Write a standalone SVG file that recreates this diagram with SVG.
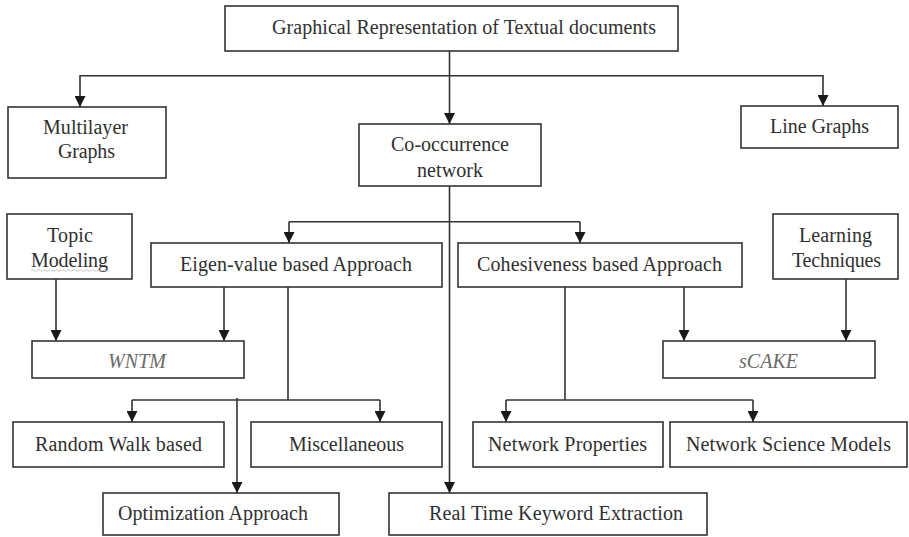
<svg xmlns="http://www.w3.org/2000/svg" width="909" height="537" viewBox="0 0 909 537">
  <style>
    .box { fill: #ffffff; stroke: #333333; stroke-width: 1.6; }
    .lbl { font-family: "Liberation Serif", "Times New Roman", serif; font-size: 20px; fill: #303030; text-anchor: middle; }
    .it { font-style: italic; fill: #6a6a6a; }
    .wire { fill: none; stroke: #333333; stroke-width: 1.6; }
    .arr { marker-end: url(#head); }
  </style>
  <defs>
    <marker id="head" viewBox="0 0 10 10" refX="10" refY="5" markerWidth="11" markerHeight="11" markerUnits="userSpaceOnUse" orient="auto">
      <path d="M0,0 L10,5 L0,10 Z" fill="#1a1a1a"/>
    </marker>
  </defs>

  <rect width="909" height="537" fill="#ffffff"/>

  <g id="connectors">
    <!-- root to first level -->
    <path class="wire" d="M449.5,51 V75.7"/>
    <path class="wire arr" d="M449.5,75.7 H80 V107"/>
    <path class="wire arr" d="M449.5,75.7 H823 V106"/>
    <path class="wire arr" d="M449.5,75.7 V124"/>
    <!-- co-occurrence network trunk -->
    <path class="wire arr" d="M449.5,186 V493"/>
    <path class="wire" d="M289,221.7 H580"/>
    <path class="wire arr" d="M289,221.7 V243"/>
    <path class="wire arr" d="M580,221.7 V243"/>
    <!-- WNTM inputs -->
    <path class="wire arr" d="M56,279 V341"/>
    <path class="wire arr" d="M224,287 V341"/>
    <!-- sCAKE inputs -->
    <path class="wire arr" d="M684,287 V341"/>
    <path class="wire arr" d="M846,279 V341"/>
    <!-- eigen-value branches -->
    <path class="wire" d="M288,287 V400"/>
    <path class="wire" d="M132,400 H380"/>
    <path class="wire arr" d="M132,400 V422"/>
    <path class="wire arr" d="M380,400 V422"/>
    <path class="wire arr" d="M237,398 V493"/>
    <!-- cohesiveness branches -->
    <path class="wire" d="M565,287 V400"/>
    <path class="wire" d="M506,400 H753"/>
    <path class="wire arr" d="M506,400 V422"/>
    <path class="wire arr" d="M753,400 V422"/>
  </g>

  <g id="root">
    <rect class="box" x="225" y="6" width="453" height="45"/>
    <text class="lbl" x="464" y="34" textLength="384" lengthAdjust="spacing">Graphical Representation of Textual documents</text>
  </g>

  <g id="multilayer">
    <rect class="box" x="8" y="107" width="158" height="71"/>
    <text class="lbl" x="85.5" y="134" textLength="85" lengthAdjust="spacing">Multilayer</text>
    <text class="lbl" x="86.5" y="158" textLength="57" lengthAdjust="spacing">Graphs</text>
  </g>

  <g id="linegraphs">
    <rect class="box" x="741" y="106" width="157" height="42"/>
    <text class="lbl" x="819.5" y="133" textLength="99" lengthAdjust="spacing">Line Graphs</text>
  </g>

  <g id="cooccurrence">
    <rect class="box" x="359" y="124" width="182" height="62"/>
    <text class="lbl" x="450" y="151" textLength="118" lengthAdjust="spacing">Co-occurrence</text>
    <text class="lbl" x="450" y="177" textLength="66" lengthAdjust="spacing">network</text>
  </g>

  <g id="topic">
    <rect class="box" x="7" y="214" width="125" height="65"/>
    <text class="lbl" x="70" y="242" textLength="46" lengthAdjust="spacing">Topic</text>
    <text class="lbl" x="69.5" y="267" textLength="77" lengthAdjust="spacing">Modeling</text>
    <path d="M31,270.5 q1.5,-1.5 3,0 t3,0 t3,0 t3,0 t3,0 t3,0 t3,0 t3,0 t3,0 t3,0 t3,0 t3,0 t3,0 t3,0 t3,0 t3,0 t3,0 t3,0 t3,0 t3,0 t3,0 t3,0 t3,0 t3,0 t3,0 t3,0" fill="none" stroke="#b8b8b8" stroke-width="0.8"/>
  </g>

  <g id="eigen">
    <rect class="box" x="151" y="243" width="291" height="44"/>
    <text class="lbl" x="296" y="271" textLength="232" lengthAdjust="spacing">Eigen-value based Approach</text>
  </g>

  <g id="cohesiveness">
    <rect class="box" x="458" y="243" width="284" height="44"/>
    <text class="lbl" x="599.5" y="271" textLength="245" lengthAdjust="spacing">Cohesiveness based Approach</text>
  </g>

  <g id="learning">
    <rect class="box" x="773" y="214" width="125" height="65"/>
    <text class="lbl" x="835.5" y="242" textLength="73" lengthAdjust="spacing">Learning</text>
    <text class="lbl" x="836.5" y="267" textLength="89" lengthAdjust="spacing">Techniques</text>
  </g>

  <g id="wntm">
    <rect class="box" x="32" y="341" width="212" height="37"/>
    <text class="lbl it" x="137" y="368" textLength="58" lengthAdjust="spacing">WNTM</text>
  </g>

  <g id="scake">
    <rect class="box" x="663" y="341" width="212" height="37"/>
    <text class="lbl it" x="768.5" y="368" textLength="59" lengthAdjust="spacing">sCAKE</text>
  </g>

  <g id="randomwalk">
    <rect class="box" x="13" y="422" width="211" height="45"/>
    <text class="lbl" x="118.5" y="451" textLength="167" lengthAdjust="spacing">Random Walk based</text>
  </g>

  <g id="misc">
    <rect class="box" x="251" y="422" width="191" height="45"/>
    <text class="lbl" x="346.5" y="451" textLength="115" lengthAdjust="spacing">Miscellaneous</text>
  </g>

  <g id="netprops">
    <rect class="box" x="473" y="422" width="190" height="45"/>
    <text class="lbl" x="567.5" y="451" textLength="159" lengthAdjust="spacing">Network Properties</text>
  </g>

  <g id="netscience">
    <rect class="box" x="670" y="422" width="237" height="45"/>
    <text class="lbl" x="788.5" y="451" textLength="205" lengthAdjust="spacing">Network Science Models</text>
  </g>

  <g id="optimization">
    <rect class="box" x="103" y="493" width="236" height="42"/>
    <text class="lbl" x="213" y="520" textLength="190" lengthAdjust="spacing">Optimization Approach</text>
  </g>

  <g id="realtime">
    <rect class="box" x="389" y="493" width="318" height="42"/>
    <text class="lbl" x="556" y="520" textLength="254" lengthAdjust="spacing">Real Time Keyword Extraction</text>
  </g>
</svg>
